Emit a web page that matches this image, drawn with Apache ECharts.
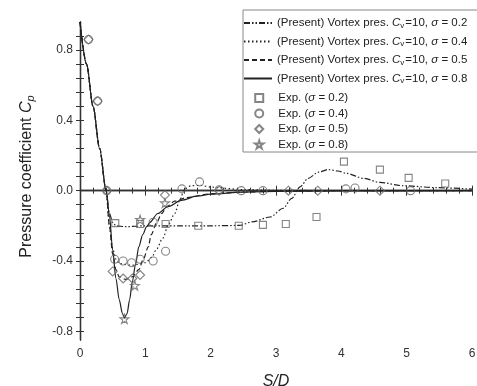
<!DOCTYPE html>
<html>
<head>
<meta charset="utf-8">
<script src="https://cdn.jsdelivr.net/npm/echarts@6/dist/echarts.min.js"></script>
<style>
html, body { margin: 0; padding: 0; background: #fff; }
#chart { width: 477px; height: 386px; }
</style>
</head>
<body>
<div id="chart"></div>
<script>
// model curves, [S/D, Cp]
const model02 = [[0, 0.96], [0.1, 0.72], [0.2, 0.48], [0.3, 0.24], [0.4, 0.0], [0.45, -0.13], [0.5, -0.18], [0.55, -0.2],
	[0.7, -0.205], [1.0, -0.2], [1.5, -0.2], [2.0, -0.2], [2.44, -0.198], [2.63, -0.178], [2.91, -0.15], [3.11, -0.1],
	[3.24, -0.044], [3.37, 0.022], [3.49, 0.07], [3.65, 0.105], [3.8, 0.12], [3.95, 0.112], [4.08, 0.098], [4.34, 0.07],
	[4.59, 0.047], [4.95, 0.028], [5.46, 0.017], [6.0, 0.009]];
const model04 = [[0, 0.96], [0.1, 0.72], [0.2, 0.48], [0.3, 0.24], [0.4, 0.0], [0.45, -0.2], [0.5, -0.33], [0.55, -0.39],
	[0.6, -0.415], [0.8, -0.425], [1.0, -0.41], [1.1, -0.38], [1.16, -0.34], [1.27, -0.27], [1.35, -0.195], [1.45, -0.13],
	[1.53, -0.05], [1.6, 0.01], [1.7, 0.028], [1.85, 0.03], [2.0, 0.02], [2.5, 0.006], [3.0, 0.002], [4, 0], [6, 0]];
const model05 = [[0, 0.96], [0.1, 0.72], [0.2, 0.48], [0.3, 0.24], [0.4, 0.0], [0.45, -0.2], [0.5, -0.36], [0.55, -0.45],
	[0.6, -0.49], [0.7, -0.505], [0.8, -0.49], [0.9, -0.45], [0.97, -0.39], [1.045, -0.32], [1.09, -0.25], [1.17, -0.185],
	[1.25, -0.13], [1.33, -0.09], [1.45, -0.06], [1.63, -0.04], [2.0, -0.018], [2.5, -0.008], [3.0, -0.004], [4, 0], [6, 0]];
const model08 = [[0, 0.96], [0.1, 0.72], [0.2, 0.48], [0.3, 0.24], [0.4, 0.0], [0.45, -0.14], [0.5, -0.34], [0.55, -0.5],
	[0.6, -0.62], [0.65, -0.7], [0.68, -0.725], [0.72, -0.7], [0.76, -0.62], [0.8, -0.52], [0.85, -0.42], [0.9, -0.32],
	[0.96, -0.25], [1.02, -0.205], [1.07, -0.18], [1.19, -0.13], [1.35, -0.09], [1.55, -0.055], [1.8, -0.03], [2.0, -0.02],
	[2.5, -0.008], [3.0, -0.004], [4, -0.001], [6, 0]];

// experiments
const exp02 = [[0.54, -0.185], [0.92, -0.19], [1.31, -0.19], [1.81, -0.2], [2.43, -0.2], [2.8, -0.195], [3.15, -0.19],
	[3.62, -0.15], [4.04, 0.165], [4.59, 0.12], [5.03, 0.073], [5.59, 0.041]];
const exp04 = [[0.13, 0.86], [0.27, 0.51], [0.41, 0.0], [0.53, -0.39], [0.66, -0.4], [0.79, -0.41], [0.92, -0.39],
	[1.12, -0.4], [1.12, -0.18], [1.31, -0.345], [1.56, 0.01], [1.83, 0.05], [2.13, 0.005], [2.47, 0.0], [2.8, 0.0],
	[4.07, 0.01], [4.21, 0.015], [5.06, 0.0]];
const exp05 = [[0.13, 0.86], [0.27, 0.51], [0.41, 0.0], [0.5, -0.46], [0.66, -0.5], [0.8, -0.5], [0.92, -0.48],
	[1.3, -0.025], [2.13, 0.0], [3.19, 0.0], [3.64, 0.0], [4.59, 0.0]];
const exp08 = [[0.68, -0.73], [0.84, -0.54], [0.92, -0.165], [1.3, -0.07]];

const yLabels = [-0.8, -0.4, 0, 0.4, 0.8];
const yTicks = [-0.8, -0.72, -0.64, -0.56, -0.48, -0.4, -0.32, -0.24, -0.16, -0.08, 0, 0.08, 0.16, 0.24, 0.32, 0.4,
	0.48, 0.56, 0.64, 0.72, 0.8, 0.88];

const FONT = '"Liberation Sans", Arial, sans-serif';
const INK = '#222';
const MARK = '#666';
const SQUARE = 'path://M0,0 L10,0 L10,10 L0,10 Z';
const DIAMOND = 'path://M5,0 L10,5 L5,10 L0,5 Z';
const STAR = 'path://M50,0 L61,35 L98,35 L68,57 L79,91 L50,70 L21,91 L32,57 L2,35 L39,35 Z';

const lineNames = {
	m02: '(Present) Vortex pres. {i|C}{sub|v}=10, {i|σ} = 0.2',
	m04: '(Present) Vortex pres. {i|C}{sub|v}=10, {i|σ} = 0.4',
	m05: '(Present) Vortex pres. {i|C}{sub|v}=10, {i|σ} = 0.5',
	m08: '(Present) Vortex pres. {i|C}{sub|v}=10, {i|σ} = 0.8',
	e02: 'Exp. ({i|σ} = 0.2)',
	e04: 'Exp. ({i|σ} = 0.4)',
	e05: 'Exp. ({i|σ} = 0.5)',
	e08: 'Exp. ({i|σ} = 0.8)',
};

const legendText = {
	fontSize: 11.5,
	fontFamily: FONT,
	color: INK,
	rich: {
		i: { fontStyle: 'italic', fontSize: 11.5, fontFamily: FONT, color: INK },
		sub: { fontSize: 8, fontFamily: FONT, color: INK, padding: [5, 1, 0, 0] },
	},
};

const axisLine = { show: true, lineStyle: { color: '#333', width: 1.3 } };

const modelSeries = (name, data, type) => ({
	name,
	type: 'line',
	data,
	symbol: 'none',
	smooth: 0.3,
	smoothMonotone: 'x',
	lineStyle: { color: INK, width: 1.2, type },
	itemStyle: { color: INK },
	z: 3,
});

const expSeries = (name, data, symbol, size) => ({
	name,
	type: 'scatter',
	data,
	symbol,
	symbolSize: size,
	itemStyle: { color: 'rgba(255,255,255,0)', borderColor: MARK, borderWidth: 1.1 },
	z: 4,
});

const chart = echarts.init(document.getElementById('chart'));

chart.setOption({
	animation: false,
	grid: { left: 80, right: 5, top: 22, bottom: 46, outerBoundsMode: 'none', containLabel: false },
	graphic: [{
		type: 'rect',
		shape: { x: 243, y: 10, width: 250, height: 142 },
		style: { fill: '#fff', stroke: '#888', lineWidth: 1 },
		z: 10,
	}],
	legend: [{
		data: ['m02', 'm04', 'm05', 'm08'],
		orient: 'vertical',
		left: 243,
		top: 17,
		padding: 0,
		itemWidth: 28,
		itemHeight: 12,
		itemGap: 6,
		z: 20,
		itemStyle: { opacity: 0 },
		formatter: (n) => lineNames[n],
		textStyle: legendText,
	}, {
		data: ['e02', 'e04', 'e05', 'e08'],
		orient: 'vertical',
		left: 254,
		top: 92,
		padding: 0,
		itemWidth: 28,
		itemHeight: 8,
		itemGap: 3.5,
		z: 20,
		formatter: (n) => lineNames[n],
		textStyle: legendText,
	}],
	xAxis: [{
		type: 'value',
		min: 0,
		max: 6,
		interval: 1,
		position: 'bottom',
		axisLine,
		axisTick: { inside: true, length: 5, lineStyle: { color: '#333' } },
		minorTick: { show: true, splitNumber: 5, length: 3, lineStyle: { color: '#333' } },
		splitLine: { show: false },
		axisLabel: { fontSize: 12, fontFamily: FONT, color: '#333', margin: 8 },
		name: 'S/D',
		nameLocation: 'middle',
		nameGap: 34,
		nameTextStyle: { fontSize: 16, fontStyle: 'italic', fontFamily: FONT, color: INK },
	}, {
		type: 'value',
		min: 0,
		max: 6,
		interval: 1,
		position: 'top',
		axisLine,
		axisTick: { inside: true, length: 5, lineStyle: { color: '#333' } },
		minorTick: { show: true, splitNumber: 5, length: 3, lineStyle: { color: '#333' } },
		splitLine: { show: false },
		axisLabel: { show: false },
	}],
	yAxis: [{
		type: 'value',
		min: -0.85,
		max: 0.96,
		position: 'left',
		axisLine,
		axisTick: { inside: true, length: 4, customValues: yTicks, lineStyle: { color: '#333' } },
		splitLine: { show: false },
		axisLabel: {
			customValues: yLabels,
			formatter: (v) => v.toFixed(1),
			fontSize: 12,
			fontFamily: FONT,
			color: '#333',
			margin: 7,
		},
		name: 'Pressure coefficient {i|C}{s|p}',
		nameLocation: 'middle',
		nameGap: 44,
		nameTextStyle: {
			fontSize: 16,
			fontFamily: FONT,
			color: INK,
			padding: [0, 0, 0, 9],
			rich: {
				i: { fontSize: 16, fontStyle: 'italic', fontFamily: FONT, color: INK },
				s: { fontSize: 11, fontStyle: 'italic', fontFamily: FONT, color: INK, padding: [7, 0, 0, 0] },
			},
		},
	}, {
		type: 'value',
		min: -0.85,
		max: 0.96,
		position: 'right',
		axisLine,
		axisTick: { inside: true, length: 4, customValues: yTicks, lineStyle: { color: '#333' } },
		splitLine: { show: false },
		axisLabel: { show: false },
	}],
	series: [
		modelSeries('m02', model02, [6, 2, 1.5, 2, 1.5, 2]),
		modelSeries('m04', model04, [1.5, 2.5]),
		modelSeries('m05', model05, [5, 3]),
		modelSeries('m08', model08, 'solid'),
		expSeries('e02', exp02, SQUARE, 7),
		expSeries('e04', exp04, 'circle', 8),
		expSeries('e05', exp05, DIAMOND, 9),
		expSeries('e08', exp08, STAR, 9),
	],
});
</script>
</body>
</html>
